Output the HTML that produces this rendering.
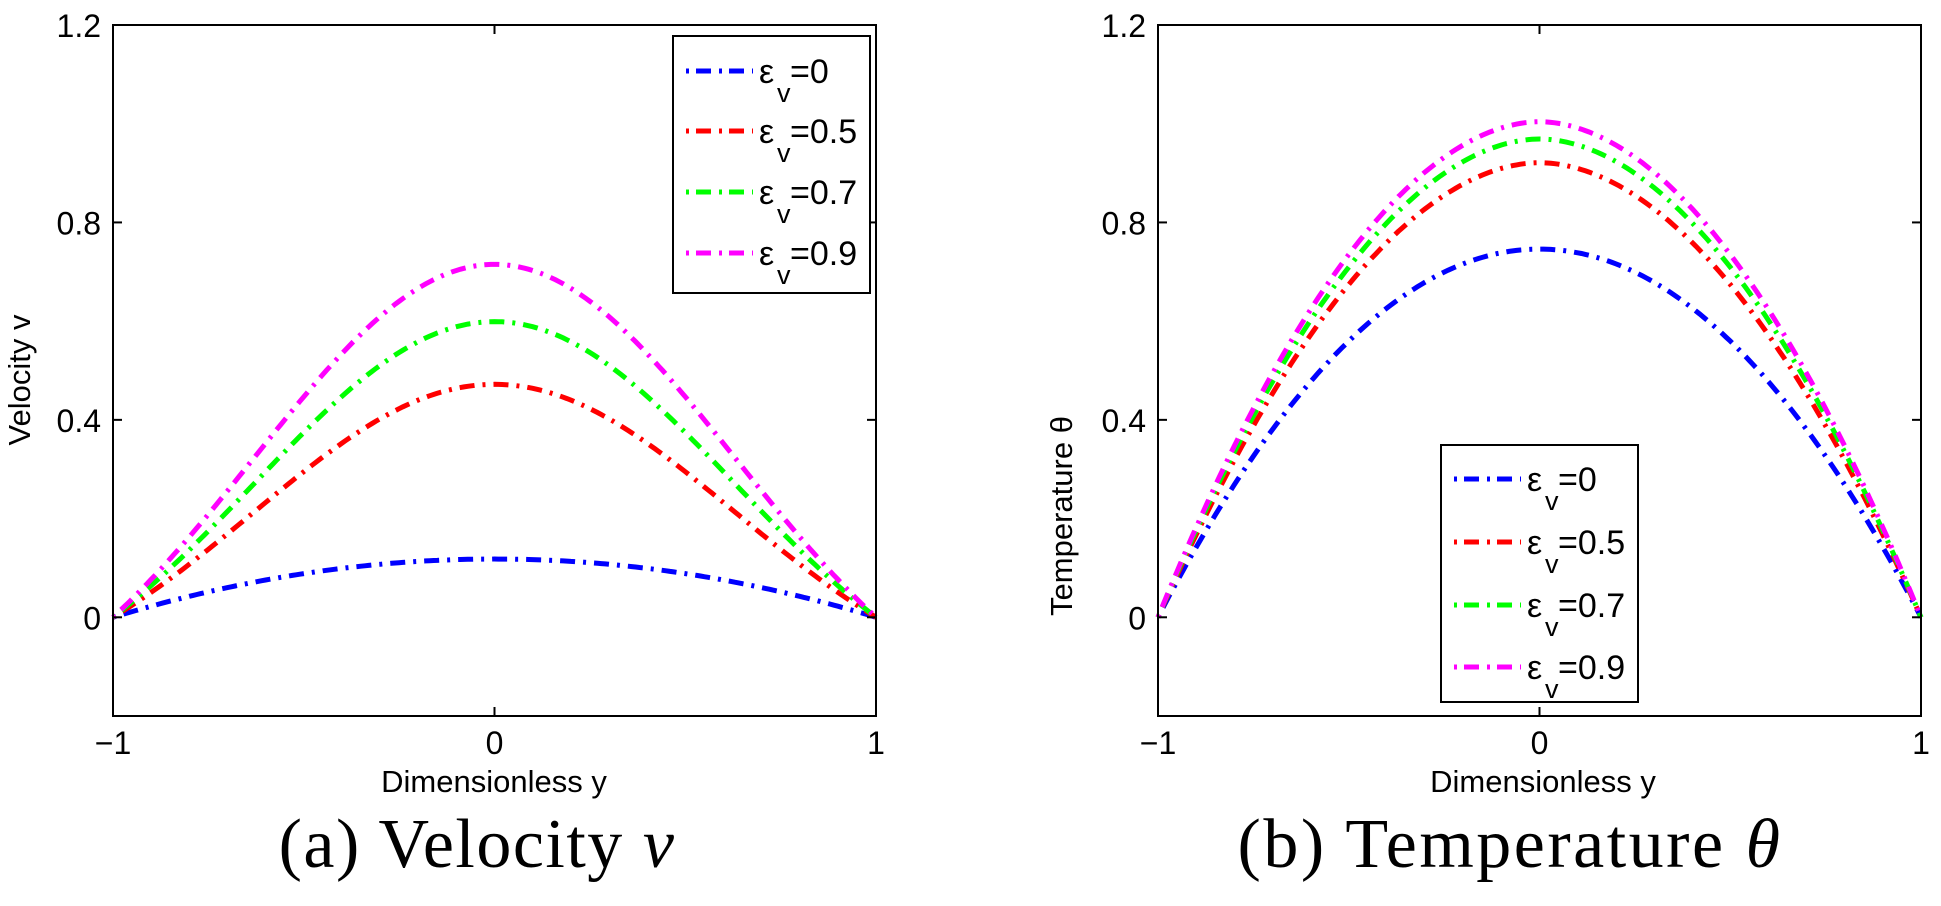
<!DOCTYPE html>
<html><head><meta charset="utf-8"><style>
body{margin:0;background:#fff}
svg text{font-family:"Liberation Sans",sans-serif}
</style></head><body>
<svg id="s" width="1941" height="901" xmlns="http://www.w3.org/2000/svg">
<rect width="1941" height="901" fill="#fff"/>
<g id="g"></g>
</svg>
<script>
const NS="http://www.w3.org/2000/svg";
const g=document.getElementById('g');
function el(t,a,txt){const e=document.createElementNS(NS,t);for(const k in a)e.setAttribute(k,a[k]);if(txt!==undefined)e.textContent=txt;g.appendChild(e);return e;}
const dash="3 8 15 8";
function plot(x0,x1,y0,y1,curves,legend,ylab,ylabx,xlabc,cap,capc,capls){
  const X=v=>x0+(v+1)/2*(x1-x0), Y=v=>y1-(v+0.2)/1.4*(y1-y0);
  for(const c of curves){let d="";for(let i=0;i<=200;i++){const t=-1+i/100;d+=(i?"L":"M")+X(t).toFixed(1)+","+Y(c.f(t)).toFixed(1);}
    el('path',{d,fill:'none',stroke:c.col,'stroke-width':5,'stroke-dasharray':dash});}
  el('rect',{x:x0,y:y0,width:x1-x0,height:y1-y0,fill:'none',stroke:'#000','stroke-width':2});
  [0,0.4,0.8,1.2].forEach(v=>{const y=Y(v);el('line',{x1:x0,y1:y,x2:x0+9,y2:y,stroke:'#000','stroke-width':2});el('line',{x1:x1,y1:y,x2:x1-9,y2:y,stroke:'#000','stroke-width':2});
    el('text',{x:x0-12,y:y+12,'font-size':32,'text-anchor':'end'},v==0?"0":v.toFixed(1));});
  [-1,0,1].forEach(v=>{const x=X(v);el('line',{x1:x,y1:y1,x2:x,y2:y1-9,stroke:'#000','stroke-width':2});el('line',{x1:x,y1:y0,x2:x,y2:y0+9,stroke:'#000','stroke-width':2});
    el('text',{x:x,y:754,'font-size':32,'text-anchor':'middle'},v<0?"\u22121":String(v));});
  el('text',{x:xlabc,y:792,'font-size':31,'text-anchor':'middle'},"Dimensionless y");
  el('text',{x:0,y:0,'font-size':31,'text-anchor':'middle',transform:`translate(${ylabx},${ylab[1]}) rotate(-90)`},ylab[0]);
  const ct=el('text',{x:capc,y:867,'font-size':70,'text-anchor':'middle','letter-spacing':capls,style:'font-family:"Liberation Serif",serif'},cap[0]);
  const ts=document.createElementNS(NS,'tspan');ts.setAttribute('font-style','italic');ts.textContent=cap[1];ct.appendChild(ts);
  const [lx,ly,lw,lh,ys]=legend;
  el('rect',{x:lx,y:ly,width:lw,height:lh,fill:'#fff',stroke:'#000','stroke-width':2});
  const labs=["0","0.5","0.7","0.9"];
  curves.forEach((c,i)=>{const y=ys[i];
    el('line',{x1:lx+13,y1:y,x2:lx+80,y2:y,stroke:c.col,'stroke-width':5,'stroke-dasharray':"3 7 15 8"});
    el('text',{x:lx+86,y:y+12,'font-size':34},"\u03b5");
    el('text',{x:lx+104,y:y+31,'font-size':27},"v");
    el('text',{x:lx+117,y:y+12,'font-size':34},"="+labs[i]);
  });
}
const bell=(A)=>t=>A*(0.5*Math.pow(Math.cos(Math.PI*t/2),2)+0.5*(1-t*t));
const par=(A)=>t=>A*(1-t*t);
plot(113,876,25,716,[
 {col:'#0000ff',f:par(0.118)},{col:'#ff0000',f:bell(0.472)},{col:'#00ff00',f:bell(0.599)},{col:'#ff00ff',f:bell(0.715)}],
 [673,36,197,257,[71,131,192,253]],["Velocity v",380],30,494,["(a)  Velocity ","v"],477,1.5);
const pt=(A)=>t=>A*(1-Math.pow(Math.abs(t),1.9));
plot(1158,1921,25,716,[
 {col:'#0000ff',f:par(0.746)},{col:'#ff0000',f:pt(0.921)},{col:'#00ff00',f:pt(0.969)},{col:'#ff00ff',f:pt(1.004)}],
 [1441,445,197,257,[479,542,605,667]],["Temperature \u03b8",516],1072,1543,["(b)  Temperature ","\u03b8"],1510,2.5);
</script>
</body></html>
